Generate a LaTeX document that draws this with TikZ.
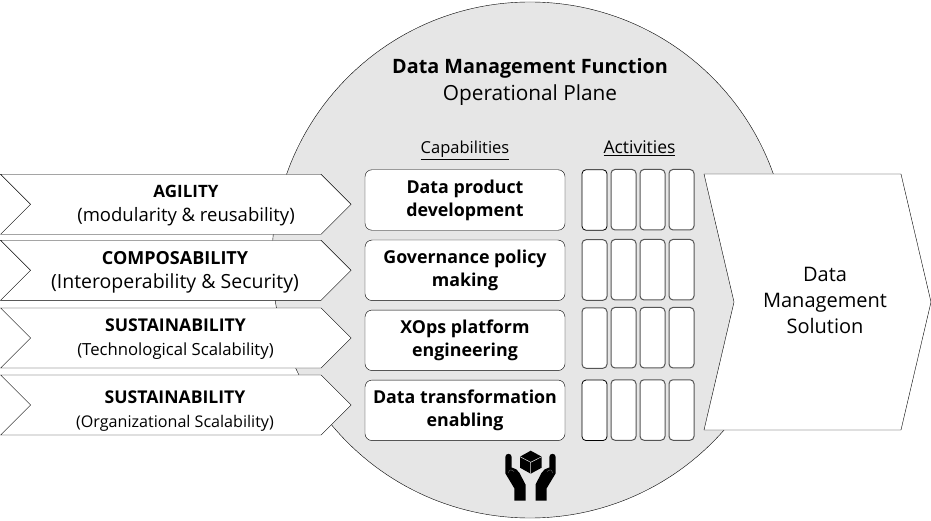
\documentclass[tikz,border=0pt]{standalone}
\usepackage{fontspec}
\setmainfont{Open Sans}
\usetikzlibrary{shapes,shapes.arrows,positioning}
\definecolor{planegray}{HTML}{E6E6E6}
\definecolor{boxgray}{HTML}{555555}
\tikzset{
    plane/.style = {circle, draw, fill=planegray, minimum size=516pt, inner sep=0pt},
    chev/.style = {signal, signal to=east, signal from=west, signal pointer angle=90, draw, fill=white,
        minimum width=350.5pt, minimum height=60pt, inner sep=0pt},
    sol/.style = {signal, signal to=east, signal from=west, signal pointer angle=153.6, draw, fill=white,
        minimum width=227pt, minimum height=256pt, inner sep=0pt},
    lbl/.style = {inner sep=0pt, align=center},
    capab/.style = {rectangle, rounded corners=7pt, draw, fill=white, minimum width=200pt, minimum height=60.5pt,
        inner sep=0pt, align=center, font=\fontsize{17.8}{23}\selectfont\bfseries},
    activ/.style = {rectangle, rounded corners=4pt, draw=boxgray, line width=1pt, fill=white, minimum width=25pt, minimum height=60.5pt, inner sep=0pt},
    head/.style = {anchor=base, inner sep=0pt}
}
\newcommand{\handshape}{(505.3,457) arc[start angle=180,end angle=360,radius=3.2] -- (511.7,467.5)
    .. controls (515,468) and (518,470) .. (519.5,473) -- (525.5,484.5) -- (525.5,500.7) -- (514.3,500.7) -- (514.3,488.3) -- (505.3,473.3) -- cycle}
\begin{document}
\begin{tikzpicture}[x=1pt,y=-1pt]
    \useasboundingbox (0,0) rectangle (931,521);
    \node[plane] (fn) at (530,260) {};

    \node[lbl, font=\fontsize{19.8}{24}\selectfont\bfseries] (title) at (530,68) {Data Management Function};
    \node[lbl, font=\fontsize{20.8}{24}\selectfont] (sub) at (530,95) {Operational Plane};
    \node[head, font=\fontsize{16.5}{20}\selectfont] (caphead) at (465,154) {\underline{Capabilities}};
    \node[head, font=\fontsize{17.5}{20}\selectfont] (acthead) at (639.5,154) {\underline{Activities}};

    \node[chev] (agility) at (175.8,204.3) {};
    \node[chev] (compos) at (175.8,270.3) {};
    \node[chev] (techsc) at (175.8,338) {};
    \node[chev] (orgsc) at (175.8,405) {};

    \node[lbl, font=\fontsize{17}{24}\selectfont] (agilitytxt) at (186,206) {\textbf{AGILITY}\\{\fontsize{18.5}{24}\selectfont (modularity \& reusability)}};
    \node[lbl, font=\fontsize{18}{24}\selectfont] (compostxt) at (175,272.5) {\textbf{COMPOSABILITY}\\{\fontsize{19.5}{24}\selectfont (Interoperability \& Security)}};
    \node[lbl, font=\fontsize{17.6}{24}\selectfont] (techsctxt) at (175.5,339) {\textbf{SUSTAINABILITY}\\{\fontsize{16.7}{24}\selectfont (Technological Scalability)}};
    \node[lbl, font=\fontsize{17.6}{24}\selectfont] (orgsctxt) at (175,411) {\textbf{SUSTAINABILITY}\\{\fontsize{16.1}{24}\selectfont (Organizational Scalability)}};

    \node[capab] (dev) at (465,200) {Data product\\development};
    \node[capab] (gov) at (465,270.3) {Governance policy\\making};
    \node[capab] (xops) at (465,340.3) {XOps platform\\engineering};
    \node[capab] (enab) at (465,410.3) {Data transformation\\enabling};

    \node[activ, draw=black, line width=0.8pt] (a11) at (594.5,200) {};
    \node[activ] (a12) at (623.5,199.7) {};
    \node[activ] (a13) at (652.5,199.7) {};
    \node[activ] (a14) at (681.5,199.7) {};
    \node[activ] (a21) at (594.5,270) {};
    \node[activ] (a22) at (623.5,269.7) {};
    \node[activ] (a23) at (652.5,269.7) {};
    \node[activ] (a24) at (681.5,269.7) {};
    \node[activ] (a31) at (594.5,338) {};
    \node[activ] (a32) at (623.5,337.7) {};
    \node[activ] (a33) at (652.5,337.7) {};
    \node[activ] (a34) at (681.5,337.7) {};
    \node[activ, draw=black, line width=0.8pt] (a41) at (594.5,410.3) {};
    \node[activ] (a42) at (623.5,410) {};
    \node[activ] (a43) at (652.5,410) {};
    \node[activ] (a44) at (681.5,410) {};

    \node[sol] (solution) at (817.5,302) {};
    \node[lbl, font=\fontsize{20}{26}\selectfont] (soltxt) at (825,300) {Data\\Management\\Solution};

    % cube held by two hands
    \fill (530.7,450.7) -- (541.7,456.7) -- (541.7,467.7) -- (530.7,473.7) -- (520,467.7) -- (520,456.7) -- cycle;
    \draw[planegray, line width=0.5pt] (520,456.7) -- (530.7,462.3) -- (541.7,456.7) (530.7,462.3) -- (530.7,473.7);
    \fill \handshape;
    \draw[gray, line width=0.3pt] (508.5,473) .. controls (509,469.5) and (511,469) .. (514,471.5);
    \begin{scope}[xshift=1061pt, xscale=-1]
        \fill \handshape;
        \draw[gray, line width=0.3pt] (508.5,473) .. controls (509,469.5) and (511,469) .. (514,471.5);
    \end{scope}
\end{tikzpicture}
\end{document}
